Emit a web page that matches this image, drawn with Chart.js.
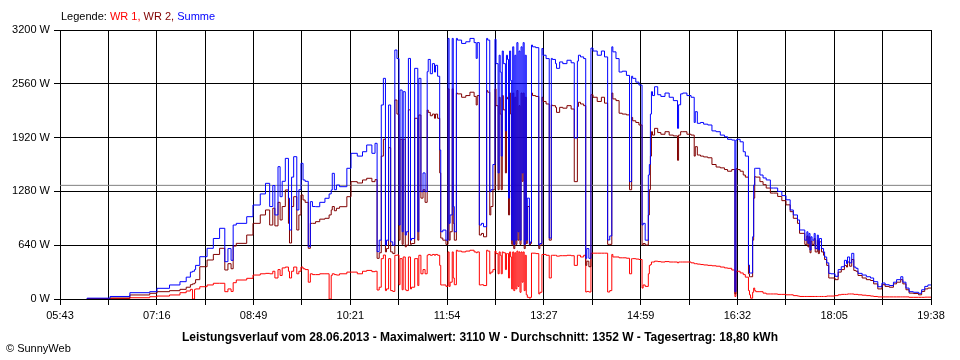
<!DOCTYPE html>
<html>
<head>
<meta charset="utf-8">
<script src="https://cdn.jsdelivr.net/npm/chart.js@4/dist/chart.umd.min.js"></script>
<style>
  body { margin:0; background:#fff; font-family:'Liberation Sans', Arial, sans-serif; color:#000; }
  #wrap { position:relative; width:960px; height:360px; }
  #legend { position:absolute; left:61px; top:10px; font-size:11px; white-space:nowrap; }
  #title { position:absolute; left:0; width:960px; top:330px; text-align:center; font-weight:bold; font-size:12px; white-space:nowrap; }
  #credit { position:absolute; left:6px; top:342px; font-size:11px; }
</style>
</head>
<body>
<div id="wrap">
  <canvas id="c" width="960" height="360"></canvas>
  <div id="legend">Legende: <span style="color:#ff0000">WR 1,</span> <span style="color:#800000">WR 2,</span> <span style="color:#0000ff">Summe</span></div>
  <div id="title">Leistungsverlauf vom 28.06.2013 - Maximalwert: 3110 W - Durchschnitt: 1352 W - Tagesertrag: 18,80 kWh</div>
  <div id="credit">© SunnyWeb</div>
</div>
<script>
// minutes after midnight
const times = [
  369,391,410,429,436,448,458,464,468,470, 472,473,477,484,490,496,501,504,507,509,
  512,522,528,535,540,544,547,549,552,554, 556,559,562,563,565,567,570,572,574,576,
  578,581,583,585,588,592,597,601,603,604, 606,608,611,618,622,628,633,637,642,645,
  647,649,651,653,655,656,658,660,662,664, 666,668,669,671,672,674,675,677,679,680,
  683,686,687,689,691,693,695,696,698,700, 702,703,705,707,708,710,713,715,716,717,
  719,720,721,723,724,728,732,736,740,742, 743,745,747,749,752,753,755,756,758,760,
  761,763,764,765,766,767,768,770,771,772, 773,774,775,776,777,778,779,780,781,782,
  783,784,785,786,787,788,789,790,791,793, 794,795,796,799,802,803,805,806,809,812,
  814,815,818,819,822,825,829,833,836,839, 840,842,845,847,848,850,852,854,858,862,
  865,868,870,872,873,876,879,882,886,889, 891,892,895,898,901,902,904,907,908,909,
  910,911,913,916,919,923,927,931,935,936, 938,940,944,948,951,952,954,957,960,964,
  968,972,976,980,983,987,990,991,992,995, 998,1000,1003,1004,1005,1007,1008,1009,1010,1014,
  1017,1020,1024,1027,1031,1035,1039,1043,1046,1050, 1052,1057,1059,1060,1061,1062,1063,1064,1066,1067,
  1069,1070,1071,1073,1075,1076,1078,1080,1082,1086, 1089,1092,1095,1097,1098,1100,1102,1104,1106,1108,
  1112,1116,1120,1123,1127,1131,1134,1138,1142,1145, 1149,1151,1154,1157,1161,1166,1169,1172,1175,1178
];
// W
const summe = [
  0,10,30,75,87,127,167,206,260,320, 330,350,400,503,603,720,841,444,600,460,
  880,900,979,1118,1250,1376,1100,1350,1000,1574, 1217,1400,1673,1200,821,1450,1693,1059,1300,1614,
  1416,1400,622,1158,1100,1098,1150,1198,1250,1297, 1495,1300,1356,1336,1555,1733,1700,1752,1832,1733,
  1852,563,700,2308,2625,640,700,2308,680,640, 2962,2860,880,2486,800,2466,760,800,2862,700,
  720,2744,800,2625,1277,1500,1277,2704,2850,2680, 2800,2700,2780,2650,1772,800,820,700,3100,900,
  1000,3100,1100,800,3100,3080,3040,3060,3100,3050, 2862,3050,880,900,860,3100,3080,1277,1300,1600,
  3090,2800,1500,2900,2700,1700,2950,2800,2000,2900, 2850,1200,2950,2600,700,3000,650,2900,700,3050,
  800,2950,700,3000,1500,3050,650,2900,700,1200, 660,680,3021,3000,2990,642,660,2980,2900,2860,
  725,2862,2850,2800,2744,2820,2800,2840,2810,1915, 2830,2900,2880,2860,484,600,484,2985,2950,2900,
  2950,2880,702,750,3000,2940,2860,2700,2710,2660, 1396,2650,2625,2580,2545,880,900,700,1475,1600,
  2200,2466,2420,2525,2430,2410,2450,2400,2360,2030, 2310,2440,2450,2420,2400,2100,2228,2090,2100,2080,
  2070,2000,1990,1950,1930,1900,1891,87,1891,1900, 1870,1752,1700,404,309,309,741,1356,1555,1555,
  1475,1440,1416,1320,1320,1280,1230,1180,1059,1000, 940,821,700,800,663,780,583,740,700,780,
  600,760,583,720,600,560,500,430,305,300, 270,350,384,460,420,500,430,543,380,365,
  305,285,265,250,206,146,190,170,160,200, 230,265,200,130,87,80,68,110,150,167
];
const wr2 = [
  0,5,12,48,68,87,99,115,140,170, 180,190,230,384,464,530,603,345,420,360,
  630,662,761,900,1000,1059,880,1080,870,1150, 940,1100,1297,900,666,1100,1217,821,1000,1237,
  1178,1150,603,900,900,920,950,960,1000,1059, 1100,1050,1079,1098,1217,1396,1380,1416,1436,1396,
  1420,484,550,1700,1900,560,600,1800,560,540, 2367,2200,700,1900,650,1900,620,640,2250,650,
  660,2150,700,2189,1200,1300,1150,2248,2220,2180, 2200,2150,2200,2150,1500,725,700,650,2500,700,
  800,2500,900,700,2450,2440,2400,2420,2460,2410, 2308,2420,761,780,740,2480,2460,1000,1100,1300,
  2500,2300,1300,2400,2200,1300,2420,2250,1500,2400, 2380,1000,2450,2200,650,2450,600,2400,650,2480,
  700,2300,650,2450,1400,2450,600,2400,660,1100, 642,660,2450,2420,2410,600,640,2400,2350,2320,
  700,2308,2300,2280,2220,2280,2270,2300,2260,1396, 2290,2340,2320,2300,400,450,384,2430,2400,2350,
  2400,2330,650,650,2450,2380,2360,2210,2200,2190, 1300,2160,2120,2100,2070,642,660,642,1000,1300,
  1700,1990,1950,2030,1980,1960,1990,1950,1940,1650, 1950,1990,1990,1960,1950,1700,1812,1713,1700,1690,
  1680,1600,1570,1560,1540,1520,1540,60,1550,1540, 1520,1475,1450,300,265,265,700,1200,1455,1450,
  1396,1360,1320,1260,1260,1220,1170,1120,1039,960, 900,781,650,750,620,740,550,690,650,720,
  560,700,540,680,560,520,470,400,250,250, 230,320,350,400,380,440,390,470,340,330,
  280,250,230,220,180,120,170,150,140,180, 200,230,180,110,70,65,50,90,120,130
];
const wr1 = [
  0,0,5,15,27,35,48,75,95,115, 0,115,120,146,167,187,187,87,120,90,
  194,226,246,285,300,305,300,330,250,350, 280,370,380,330,250,330,380,300,330,380,
  360,350,200,300,290,290,300,300,0,280, 300,290,285,300,320,320,300,330,340,325,
  330,107,140,480,523,100,120,480,100,90, 520,523,170,480,110,500,110,100,500,120,
  140,480,160,520,300,350,300,520,530,520, 530,520,530,520,400,167,167,150,560,150,
  200,560,250,170,580,570,560,570,580,560, 550,560,167,170,160,580,570,300,320,350,
  570,540,300,560,520,300,560,550,350,540, 540,250,560,500,120,560,100,550,120,570,
  150,560,80,560,200,560,100,520,50,20, 10,20,547,545,540,60,80,530,530,520,
  250,520,520,520,510,515,515,520,515,400, 520,520,500,520,83,90,83,545,545,545,
  545,545,83,100,530,500,500,490,490,485, 300,480,480,475,470,130,167,150,300,400,
  410,440,440,450,445,440,445,440,440,430, 440,440,440,440,430,420,420,415,410,405,
  400,395,390,380,370,365,345,30,330,330, 310,290,260,100,50,10,80,130,100,87,
  87,70,60,60,60,55,55,50,50,40, 35,30,30,30,30,30,30,30,30,30,
  30,30,30,30,30,30,30,35,35,35, 40,50,55,55,55,60,60,60,55,55,
  50,45,40,35,30,25,25,25,25,25, 25,25,25,25,20,20,20,20,22,22
];
const avgW = 1352;
const tickLabels = ['05:43','07:16','08:49','10:21','11:54','13:27','14:59','16:32','18:05','19:38'];
const tStart = 343, tEnd = 1178;

const FONT = { family:"'Liberation Sans', Arial, sans-serif", size:11 };
const pts = arr => times.map((t, i) => ({ x:t, y:arr[i] }));
const line = (label, data, color, order) => ({
  label, data, borderColor:color, borderWidth:1, pointRadius:0, fill:false, stepped:'after', order
});

new Chart(document.getElementById('c'), {
  type:'line',
  data:{ datasets:[
    line('Summe', pts(summe), '#0000ff', 1),
    line('WR 2', pts(wr2), '#800000', 2),
    line('WR 1', pts(wr1), '#ff0000', 3),
    { label:'Durchschnitt', data:[{x:tStart,y:avgW},{x:tEnd,y:avgW}], borderColor:'#808080', borderWidth:1, pointRadius:0, order:4 }
  ]},
  options:{
    responsive:false, animation:false,
    layout:{ padding:{ left:0, top:30, right:29, bottom:0 } },
    plugins:{ legend:{ display:false }, tooltip:{ enabled:false } },
    scales:{
      x:{
        type:'linear', min:tStart, max:tEnd,
        afterBuildTicks: a => { a.ticks = Array.from({length:19}, (_, i) => ({ value: tStart + i * (tEnd - tStart) / 18 })); },
        afterFit: s => { s.height = 61; },
        grid:{ color:'#000', lineWidth:1, tickLength:6 },
        border:{ color:'#000' },
        ticks:{ color:'#000', font:FONT, padding:4, maxRotation:0, autoSkip:false,
          callback:(v, i) => i % 2 ? '' : tickLabels[i / 2] }
      },
      y:{
        min:0, max:3200,
        afterFit: s => { s.width = 60; },
        grid:{ color:'#000', lineWidth:1, tickLength:6 },
        border:{ color:'#000' },
        ticks:{ stepSize:640, color:'#000', font:FONT, padding:4, callback:v => v + ' W' }
      }
    }
  }
});
</script>
</body>
</html>
